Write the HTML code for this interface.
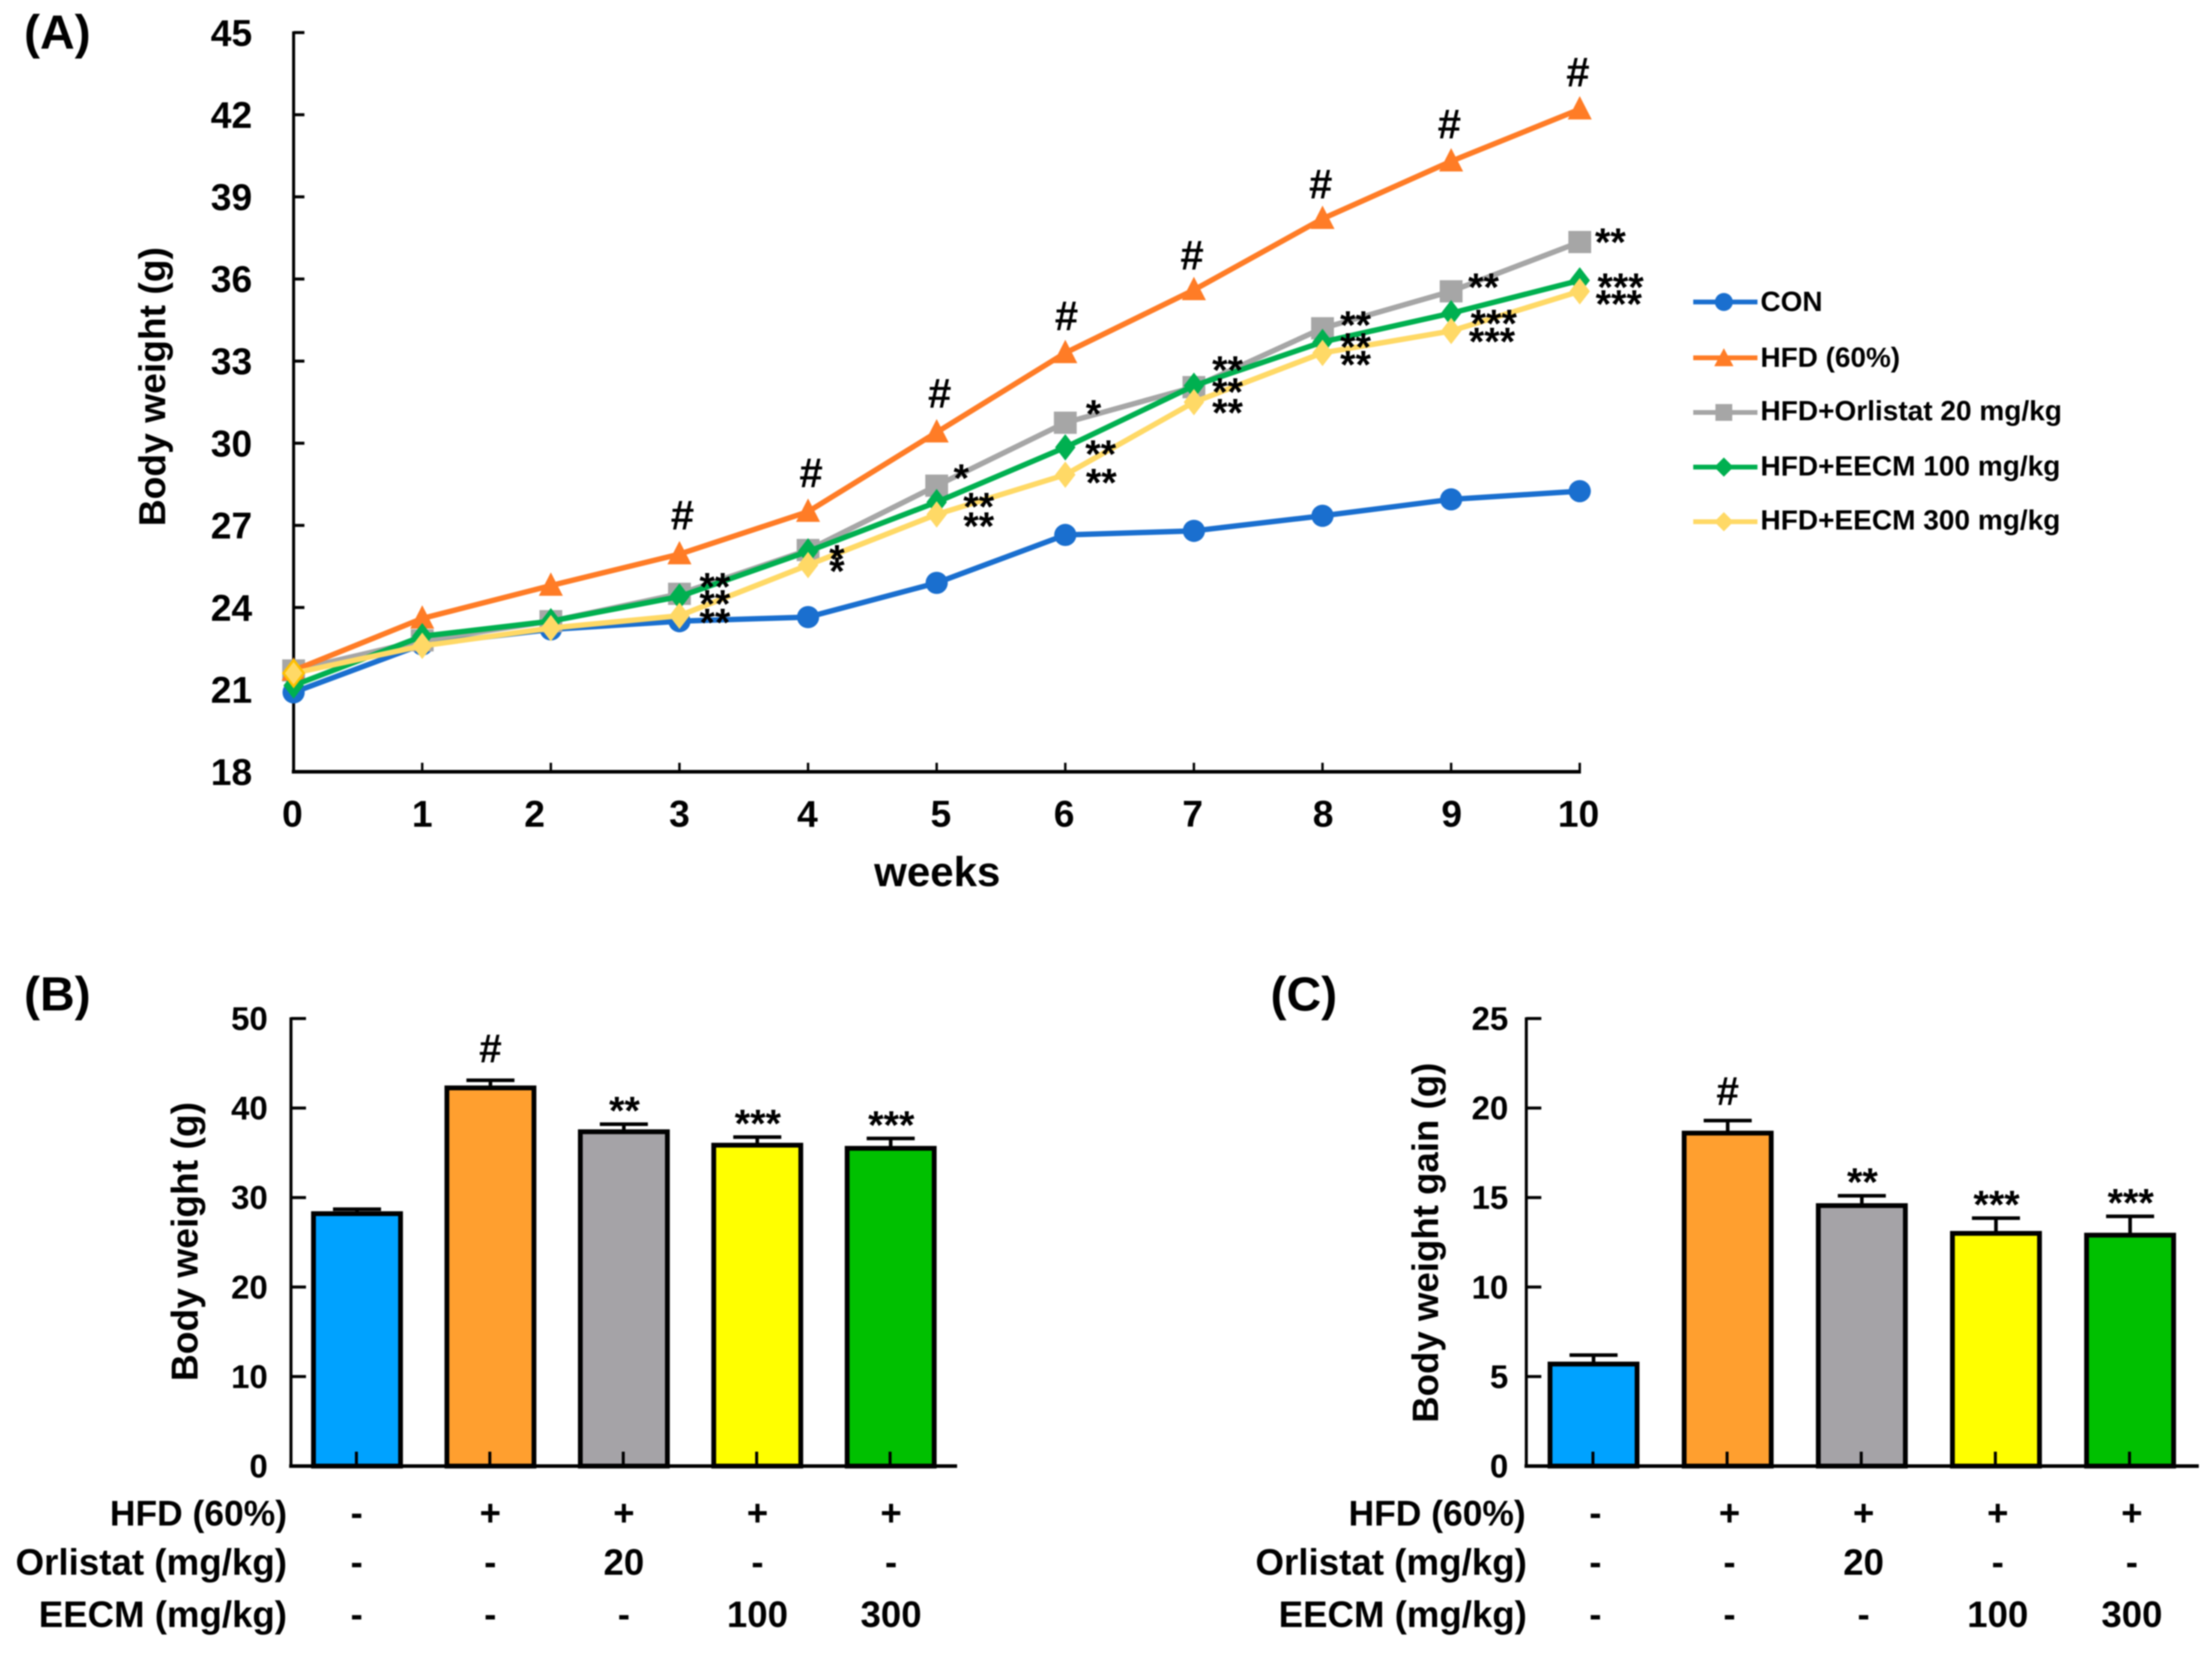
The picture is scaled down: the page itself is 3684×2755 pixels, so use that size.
<!DOCTYPE html>
<html lang="en">
<head>
<meta charset="utf-8">
<title>Body weight figure</title>
<style>
html,body{margin:0;padding:0;background:#fff;}
svg{display:block;filter:blur(1px);}
text{font-family:"Liberation Sans",Arial,sans-serif;font-weight:bold;fill:#000;}
</style>
</head>
<body>
<svg id="figure" xmlns="http://www.w3.org/2000/svg" width="3684" height="2755" viewBox="0 0 3684 2755">
  <rect x="0" y="0" width="3684" height="2755" fill="#fff"/>

  <text x="40" y="81" font-size="80">(A)</text>
  <text x="40" y="1683" font-size="80">(B)</text>
  <text x="2116" y="1683" font-size="80">(C)</text>

  <text transform="translate(275,644) rotate(-90)" text-anchor="middle" font-size="62">Body weight (g)</text>
  <text x="1561" y="1476" text-anchor="middle" font-size="70">weeks</text>
  <text transform="translate(329,2068) rotate(-90)" text-anchor="middle" font-size="62">Body weight (g)</text>
  <text transform="translate(2395,2070) rotate(-90)" text-anchor="middle" font-size="61">Body weight gain (g)</text>

  <g id="panel-a"></g>
  <g id="panel-b"></g>
  <g id="panel-c"></g>

  <g>
    <g>
      <line x1="2820" y1="503" x2="2927" y2="503" stroke="#1A6FCF" stroke-width="8"/>
      <circle cx="2871" cy="503" r="15" fill="#1A6FCF"/>
      <text x="2932" y="518" font-size="46.5">CON</text>
    </g>
    <g>
      <line x1="2820" y1="596" x2="2927" y2="596" stroke="#FF7C26" stroke-width="8"/>
      <polygon points="2871,580 2887,610 2855,610" fill="#FF7C26"/>
      <text x="2932" y="611" font-size="46.5">HFD (60%)</text>
    </g>
    <g>
      <line x1="2820" y1="687" x2="2927" y2="687" stroke="#A6A6A6" stroke-width="8"/>
      <rect x="2857" y="673" width="28" height="28" fill="#A6A6A6"/>
      <text x="2932" y="700" font-size="46.7">HFD+Orlistat 20 mg/kg</text>
    </g>
    <g>
      <line x1="2820" y1="778" x2="2927" y2="778" stroke="#00B050" stroke-width="8"/>
      <polygon points="2871,762 2887,778 2871,794 2855,778" fill="#00B050"/>
      <text x="2932" y="792" font-size="46.7">HFD+EECM 100 mg/kg</text>
    </g>
    <g>
      <line x1="2820" y1="869" x2="2927" y2="869" stroke="#FFD966" stroke-width="8"/>
      <polygon points="2871,853 2887,869 2871,885 2855,869" fill="#FFD966"/>
      <text x="2932" y="882" font-size="46.7">HFD+EECM 300 mg/kg</text>
    </g>
  </g>

  <g>
    <text x="478" y="2541" text-anchor="end" font-size="59">HFD (60%)</text>
    <text x="478" y="2623" text-anchor="end" font-size="61.2">Orlistat (mg/kg)</text>
    <text x="478" y="2710" text-anchor="end" font-size="61">EECM (mg/kg)</text>
  </g>
  <g>
    <text x="2552" y="2541" text-anchor="end" font-size="59" dx="-11">HFD (60%)</text>
    <text x="2553" y="2623" text-anchor="end" font-size="61.2" dx="-10">Orlistat (mg/kg)</text>
    <text x="2553" y="2710" text-anchor="end" font-size="61" dx="-10">EECM (mg/kg)</text>
  </g>
</svg>

<script>
/* ---------- Panel A data ---------- */
const weekLabels = ['0','1','2','3','4','5','6','7','8','9','10'];
const weightTickLabels = ['18','21','24','27','30','33','36','39','42','45'];
const conValues      = [20.9,22.65,23.2,23.5,23.65,24.9,26.65,26.8,27.35,27.95,28.25];
const hfdValues      = [21.7,23.6,24.8,25.95,27.5,30.4,33.3,35.6,38.2,40.3,42.2];
const orlistatValues = [21.7,22.8,23.5,24.5,26.1,28.45,30.75,32.05,34.2,35.55,37.35];
const eecm100Values  = [21.15,22.95,23.5,24.4,26.05,27.85,29.85,32.1,33.7,34.75,35.95];
const eecm300Values  = [21.6,22.6,23.25,23.7,25.55,27.4,28.85,31.5,33.3,34.1,35.55];
const hfdSignificance      = ['','','','#','#','#','#','#','#','#','#'];
const orlistatSignificance = ['','','','**','','*','*','**','**','**','**'];
const eecm100Significance  = ['','','','**','*','**','**','**','**','***','***'];
const eecm300Significance  = ['','','','**','*','**','**','**','**','***','***'];

/* ---------- Panel B data ---------- */
const weightBarValues = [28.2,42.25,37.35,35.85,35.5];
const weightBarErrors = [0.5,0.85,0.85,0.9,1.1];
const weightBarSignificance = ['','#','**','***','***'];
const weightBarTicks = ['0','10','20','30','40','50'];

/* ---------- Panel C data ---------- */
const gainBarValues = [5.7,18.6,14.55,13.0,12.9];
const gainBarErrors = [0.5,0.7,0.55,0.85,1.05];
const gainBarSignificance = ['','#','**','***','***'];
const gainBarTicks = ['0','5','10','15','20','25'];

/* ---------- Treatment table (shared) ---------- */
const hfdRow      = ['-','+','+','+','+'];
const orlistatRow = ['-','-','20','-','-'];
const eecmRow     = ['-','-','-','100','300'];

const NS = 'http://www.w3.org/2000/svg';
function make(tag, attrs, parent) {
  const node = document.createElementNS(NS, tag);
  for (const k in attrs) node.setAttribute(k, attrs[k]);
  parent.appendChild(node);
  return node;
}
function makeText(str, x, y, size, anchor, parent) {
  const node = make('text', {x: x, y: y, 'font-size': size, 'text-anchor': anchor}, parent);
  node.textContent = str;
  return node;
}

/* ---------- Panel A ---------- */
(function () {
  const g = document.getElementById('panel-a');
  const xAt = w => 489 + 214.2 * w;
  const yAt = v => 1285.5 - (v - 18) * 45.6;
  let el;

  el = make('line', {x1: 489, y1: yAt(45) - 2, x2: 489, y2: yAt(18), stroke: '#000', 'stroke-width': 5}, g);
  
  

  el = make('line', {x1: 486, y1: yAt(18), x2: xAt(10) + 2, y2: yAt(18), stroke: '#000', 'stroke-width': 6}, g);
  
  

  weightTickLabels.forEach(function (label) {
    const v = parseFloat(label);
    if (v > 18) {
      el = make('line', {x1: 489, y1: yAt(v), x2: 507, y2: yAt(v), stroke: '#000', 'stroke-width': 5}, g);
      
      
    }
    el = makeText(label, 420, yAt(v) + 22, 62, 'end', g);
    
    
  });

  const labelNudge = {0: -2, 1: 0, 2: -27, 3: 0, 4: -1, 5: 7, 6: -2, 7: -2, 8: 1, 9: 1, 10: -2};
  weekLabels.forEach(function (label, i) {
    if (i > 0) {
      el = make('line', {x1: xAt(i), y1: yAt(18), x2: xAt(i), y2: yAt(18) - 15, stroke: '#000', 'stroke-width': 4}, g);
      
      
    }
    el = makeText(label, xAt(i) + labelNudge[i], 1377, 62, 'middle', g);
    
    
  });

  function linePoints(values) {
    return values.map((v, i) => xAt(i) + ',' + yAt(v)).join(' ');
  }
  function series(name, values, color, shape) {
    const group = make('g', {}, g);
    
    
    const path = make('polyline', {points: linePoints(values), fill: 'none', stroke: color, 'stroke-width': 9, 'stroke-linejoin': 'round'}, group);
    
    
    values.forEach(function (v, i) {
      const cx = xAt(i), cy = yAt(v);
      let m;
      if (shape === 'circle') {
        m = make('circle', {cx: cx, cy: cy, r: 18.5, fill: color}, group);
      } else if (shape === 'triangle') {
        m = make('polygon', {points: cx + ',' + (cy - 22) + ' ' + (cx + 20) + ',' + (cy + 17) + ' ' + (cx - 20) + ',' + (cy + 17), fill: color}, group);
      } else if (shape === 'square') {
        m = make('rect', {x: cx - 19, y: cy - 18.5, width: 38, height: 37, fill: color}, group);
      } else {
        m = make('polygon', {points: cx + ',' + (cy - 22) + ' ' + (cx + 17) + ',' + cy + ' ' + cx + ',' + (cy + 22) + ' ' + (cx - 17) + ',' + cy, fill: color}, group);
      }
      
      
      if (name === 'eecm-300' && i === 0) {
        m.setAttribute('stroke', '#FFC000');
        m.setAttribute('stroke-width', '4');
      }
    });
  }
  series('con', conValues, '#1A6FCF', 'circle');
  series('orlistat', orlistatValues, '#A6A6A6', 'square');
  series('hfd', hfdValues, '#FF7C26', 'triangle');
  series('eecm-100', eecm100Values, '#00B050', 'diamond');
  series('eecm-300', eecm300Values, '#FFD966', 'diamond');

  hfdSignificance.forEach(function (mark, i) {
    if (!mark) return;
    const gap = i <= 5 ? 65 : (i === 7 || i === 8 ? 58 : 62);
    const shift = i <= 5 ? 5 : (i === 6 ? 2 : -3);
    el = makeText(mark, xAt(i) + shift, yAt(hfdValues[i]) - gap + 24, 70, 'middle', g);
    
    
  });

  const orlOffset = {3: [59, -22], 5: [41, -23], 6: [47, -25], 7: [56, -39], 8: [55, -16], 9: [54, -17], 10: [51, -10]};
  const e100Offset = {3: [59, 2], 4: [48, 2], 5: [70, -3], 6: [59, 1], 7: [56, 0], 8: [55, -2], 9: [71, 7], 10: [68, 1]};
  const e300Offset = {3: [59, 1], 4: [48, 0], 5: [70, 9], 6: [60, 3], 7: [56, 7], 8: [55, 9], 9: [68, 7], 10: [65, 11]};
  function starRow(marks, values, offsets, name) {
    marks.forEach(function (mark, i) {
      if (!mark) return;
      const o = offsets[i];
      const star = makeText(mark, xAt(i) + o[0], yAt(values[i]) + o[1] + 33, 66, 'middle', g);
      
      
    });
  }
  starRow(orlistatSignificance, orlistatValues, orlOffset, 'orlistat');
  starRow(eecm100Significance, eecm100Values, e100Offset, 'eecm-100');
  starRow(eecm300Significance, eecm300Values, e300Offset, 'eecm-300');
})();

/* ---------- Bar panels ---------- */
function drawBars(cfg) {
  const g = document.getElementById(cfg.id);
  const yTop = 1696.5, yBase = 2442;
  const yAt = v => yBase - (v / cfg.max) * (yBase - yTop);
  const fills = ['#00A2FF', '#FF9F2F', '#A5A3A7', '#FFFF00', '#00C000'];
  let el;

  cfg.values.forEach(function (v, i) {
    const cx = cfg.barX(i);
    el = make('line', {x1: cx, y1: yAt(v), x2: cx, y2: yAt(v + cfg.errors[i]), stroke: '#000', 'stroke-width': 6}, g);
    
    

    el = make('line', {x1: cx - 40, y1: yAt(v + cfg.errors[i]), x2: cx + 40, y2: yAt(v + cfg.errors[i]), stroke: '#000', 'stroke-width': 6}, g);
    
    

    el = make('rect', {x: cx - 72.5, y: yAt(v), width: 145, height: yBase - yAt(v), fill: fills[i], stroke: '#000', 'stroke-width': 8}, g);
    
    

    el = make('line', {x1: cx - 1, y1: yBase, x2: cx - 1, y2: yBase - 24, stroke: '#000', 'stroke-width': 5}, g);
    
    
  });

  el = make('line', {x1: cfg.axisX, y1: yTop - 2, x2: cfg.axisX, y2: yBase, stroke: '#000', 'stroke-width': 5}, g);
  
  

  el = make('line', {x1: cfg.axisX - 3, y1: yBase, x2: cfg.axisEnd, y2: yBase, stroke: '#000', 'stroke-width': 6}, g);
  
  

  cfg.ticks.forEach(function (label) {
    const v = parseFloat(label);
    if (v > 0) {
      el = make('line', {x1: cfg.axisX, y1: yAt(v), x2: cfg.axisX + 25, y2: yAt(v), stroke: '#000', 'stroke-width': 5}, g);
      
      
    }
    el = makeText(label, cfg.tickRight, yAt(v) + 19, 55, 'end', g);
    
    
  });

  cfg.marks.forEach(function (mark, i) {
    if (!mark) return;
    const top = yAt(cfg.values[i] + cfg.errors[i]);
    const isHash = mark === '#';
    const baseline = isHash ? top - cfg.hashGap + 22 : top - 37 + 37;
    el = makeText(mark, cfg.barX(i) + (isHash ? 0 : 1), baseline, isHash ? 68 : 66, 'middle', g);
    
    
  });

  [hfdRow, orlistatRow, eecmRow].forEach(function (row, r) {
    const baselines = [2541, 2623, 2710];
    row.forEach(function (cell, c) {
      el = makeText(cell, cfg.colX(c), baselines[r], 61, 'middle', g);
      
      
    });
  });
}

drawBars({
  id: 'panel-b', max: 50, axisX: 484.6, axisEnd: 1594, tickRight: 446, hashGap: 52,
  barX: i => 594.6 + 222.2 * i,
  colX: i => 594 + 222.5 * i,
  values: weightBarValues, errors: weightBarErrors, marks: weightBarSignificance, ticks: weightBarTicks
});
drawBars({
  id: 'panel-c', max: 25, axisX: 2542, axisEnd: 3662, tickRight: 2512, hashGap: 48,
  barX: i => 2654 + 223.4 * i,
  colX: i => 2657 + 223.4 * i,
  values: gainBarValues, errors: gainBarErrors, marks: gainBarSignificance, ticks: gainBarTicks
});
</script>
</body>
</html>
